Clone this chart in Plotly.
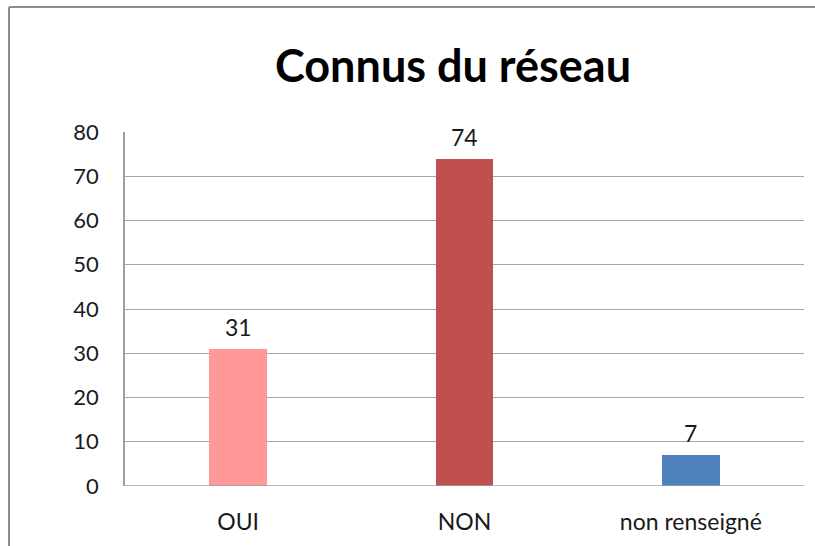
import plotly.graph_objects as go

# Chart data
categories = ["OUI", "NON", "non renseigné"]
counts = [31, 74, 7]
bar_colors = ["#FF9999", "#C0504D", "#4F81BD"]
y_ticks = [0, 10, 20, 30, 40, 50, 60, 70, 80]

W, H = 815, 546
L, R, T, B = 125, 11, 132, 60
plot_w = W - L - R
plot_h = H - T - B

FONT = "Lato, Calibri, 'Liberation Sans', sans-serif"

fig = go.Figure()
fig.add_trace(go.Bar(
    x=categories,
    y=counts,
    marker=dict(color=bar_colors, line=dict(width=0)),
    width=0.256,
    hoverinfo="x+y",
))

# Value labels above each bar
for c, v in zip(categories, counts):
    fig.add_annotation(x=c, y=v, text=str(v), showarrow=False,
                       yanchor="bottom", yshift=6,
                       font=dict(family=FONT, size=23, color="#1a1a1a"))

# Outer chart frame (top and left edges)
def px_to_paper_x(px):
    return (px - L) / plot_w

def px_to_paper_y(py):
    return (H - B - py) / plot_h

frame_color = "#8C8C8C"
fig.add_shape(type="line", xref="paper", yref="paper",
              x0=px_to_paper_x(9), x1=px_to_paper_x(W + 5),
              y0=px_to_paper_y(7), y1=px_to_paper_y(7),
              line=dict(color=frame_color, width=2))
fig.add_shape(type="line", xref="paper", yref="paper",
              x0=px_to_paper_x(9), x1=px_to_paper_x(9),
              y0=px_to_paper_y(7), y1=px_to_paper_y(H + 5),
              line=dict(color=frame_color, width=2))

fig.update_layout(
    width=W, height=H,
    margin=dict(l=L, r=R, t=T, b=B),
    paper_bgcolor="white",
    plot_bgcolor="white",
    showlegend=False,
    bargap=0.0,
    title=dict(text="<b>Connus du réseau</b>", x=453 / W, xanchor="center",
               y=1 - 66 / H, yanchor="middle",
               font=dict(family=FONT, size=45, color="#000000")),
    xaxis=dict(
        showline=False, showgrid=False, ticks="",
        tickfont=dict(family=FONT, size=23, color="#1a1a1a"),
        ticklabelstandoff=20,
        fixedrange=True,
    ),
    yaxis=dict(
        range=[0, 80], tickvals=y_ticks, ticks="",
        showline=True, linecolor="#A0A0A0", linewidth=1.5,
        showgrid=True, gridcolor="#A6A6A6", gridwidth=1.2,
        zeroline=False,
        tickfont=dict(family=FONT, size=22, color="#1a1a1a"),
        ticklabelstandoff=20,
        fixedrange=True,
    ),
)
# bottom axis line at zero
fig.add_shape(type="line", xref="paper", yref="y", x0=0, x1=1, y0=0, y1=0,
              line=dict(color="#A0A0A0", width=1.5))

fig.write_html("out.html")
